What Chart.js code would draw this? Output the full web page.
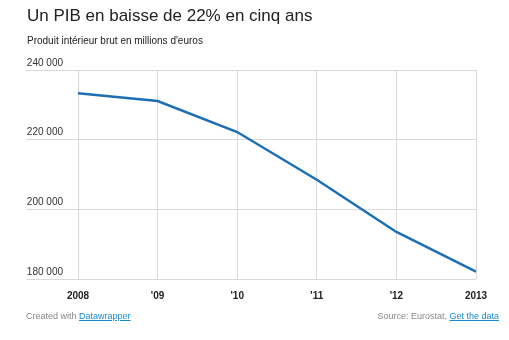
<!DOCTYPE html>
<html lang="fr">
<head>
    <meta charset="UTF-8">
    <title>Un PIB en baisse de 22% en cinq ans</title>
    <script src="https://cdn.jsdelivr.net/npm/chart.js"></script>
    <style>
        body {
            margin: 0;
            font-family: "Liberation Sans", Arial, sans-serif;
            background: #fff;
        }
        #wrap {
            position: relative;
            width: 509px;
            height: 340px;
            overflow: hidden;
        }
        #chart {
            position: absolute;
            left: 0;
            top: 0;
        }
        .title {
            position: absolute;
            left: 27px;
            top: 6px;
            font-size: 17px;
            color: #222;
            white-space: nowrap;
        }
        .subtitle {
            position: absolute;
            left: 27px;
            top: 35px;
            font-size: 10px;
            color: #222;
            white-space: nowrap;
        }
        .footer {
            position: absolute;
            top: 311px;
            font-size: 9px;
            color: #888;
            white-space: nowrap;
        }
        .footer a {
            color: #1a8ad6;
            text-decoration: underline;
        }
    </style>
</head>
<body>
    <div id="wrap">
        <canvas id="chart" width="509" height="340"></canvas>
        <div class="title">Un PIB en baisse de 22% en cinq ans</div>
        <div class="subtitle">Produit intérieur brut en millions d'euros</div>
        <div class="footer" style="left:26px;">Created with <a href="#">Datawrapper</a></div>
        <div class="footer" style="right:10px;">Source: Eurostat, <a href="#">Get the data</a></div>
    </div>
    <script>
        // data
        const years = ['2008', "'09", "'10", "'11", "'12", '2013'];
        const gdp = [233300, 231100, 222200, 208500, 193500, 182100];
        const yTicks = [180000, 200000, 220000, 240000];

        const gridColor = '#d9d9d9';

        function formatNumber(v) {
            return String(v).replace(/\B(?=(\d{3})+(?!\d))/g, ' ');
        }

        new Chart(document.getElementById('chart'), {
            type: 'line',
            data: {
                labels: years,
                datasets: [{
                    data: gdp,
                    borderColor: '#1d6fb5',
                    borderWidth: 2.5,
                    pointRadius: 0,
                    tension: 0,
                    fill: false
                }]
            },
            options: {
                responsive: false,
                animation: false,
                layout: {
                    padding: { left: 26, right: 33, top: 70, bottom: 31 }
                },
                plugins: {
                    legend: { display: false },
                    tooltip: { enabled: false }
                },
                scales: {
                    x: {
                        offset: false,
                        border: { display: false },
                        grid: { color: gridColor, drawTicks: false },
                        ticks: {
                            padding: 11,
                            color: '#222',
                            maxRotation: 0,
                            autoSkip: false,
                            font: { family: 'Liberation Sans', size: 10, weight: 'bold' }
                        },
                        afterFit: (scale) => { scale.height = 30; }
                    },
                    y: {
                        min: yTicks[0],
                        max: yTicks[yTicks.length - 1],
                        border: { display: false },
                        grid: { color: gridColor, tickLength: 52, tickColor: gridColor },
                        afterBuildTicks: (scale) => {
                            scale.ticks = yTicks.map(v => ({ value: v }));
                        },
                        ticks: {
                            crossAlign: 'near',
                            labelOffset: -7,
                            padding: -37,
                            color: '#333',
                            font: { family: 'Liberation Sans', size: 10 },
                            callback: (v) => formatNumber(v)
                        },
                        afterFit: (scale) => { scale.width = 52; }
                    }
                }
            }
        });
    </script>
</body>
</html>
